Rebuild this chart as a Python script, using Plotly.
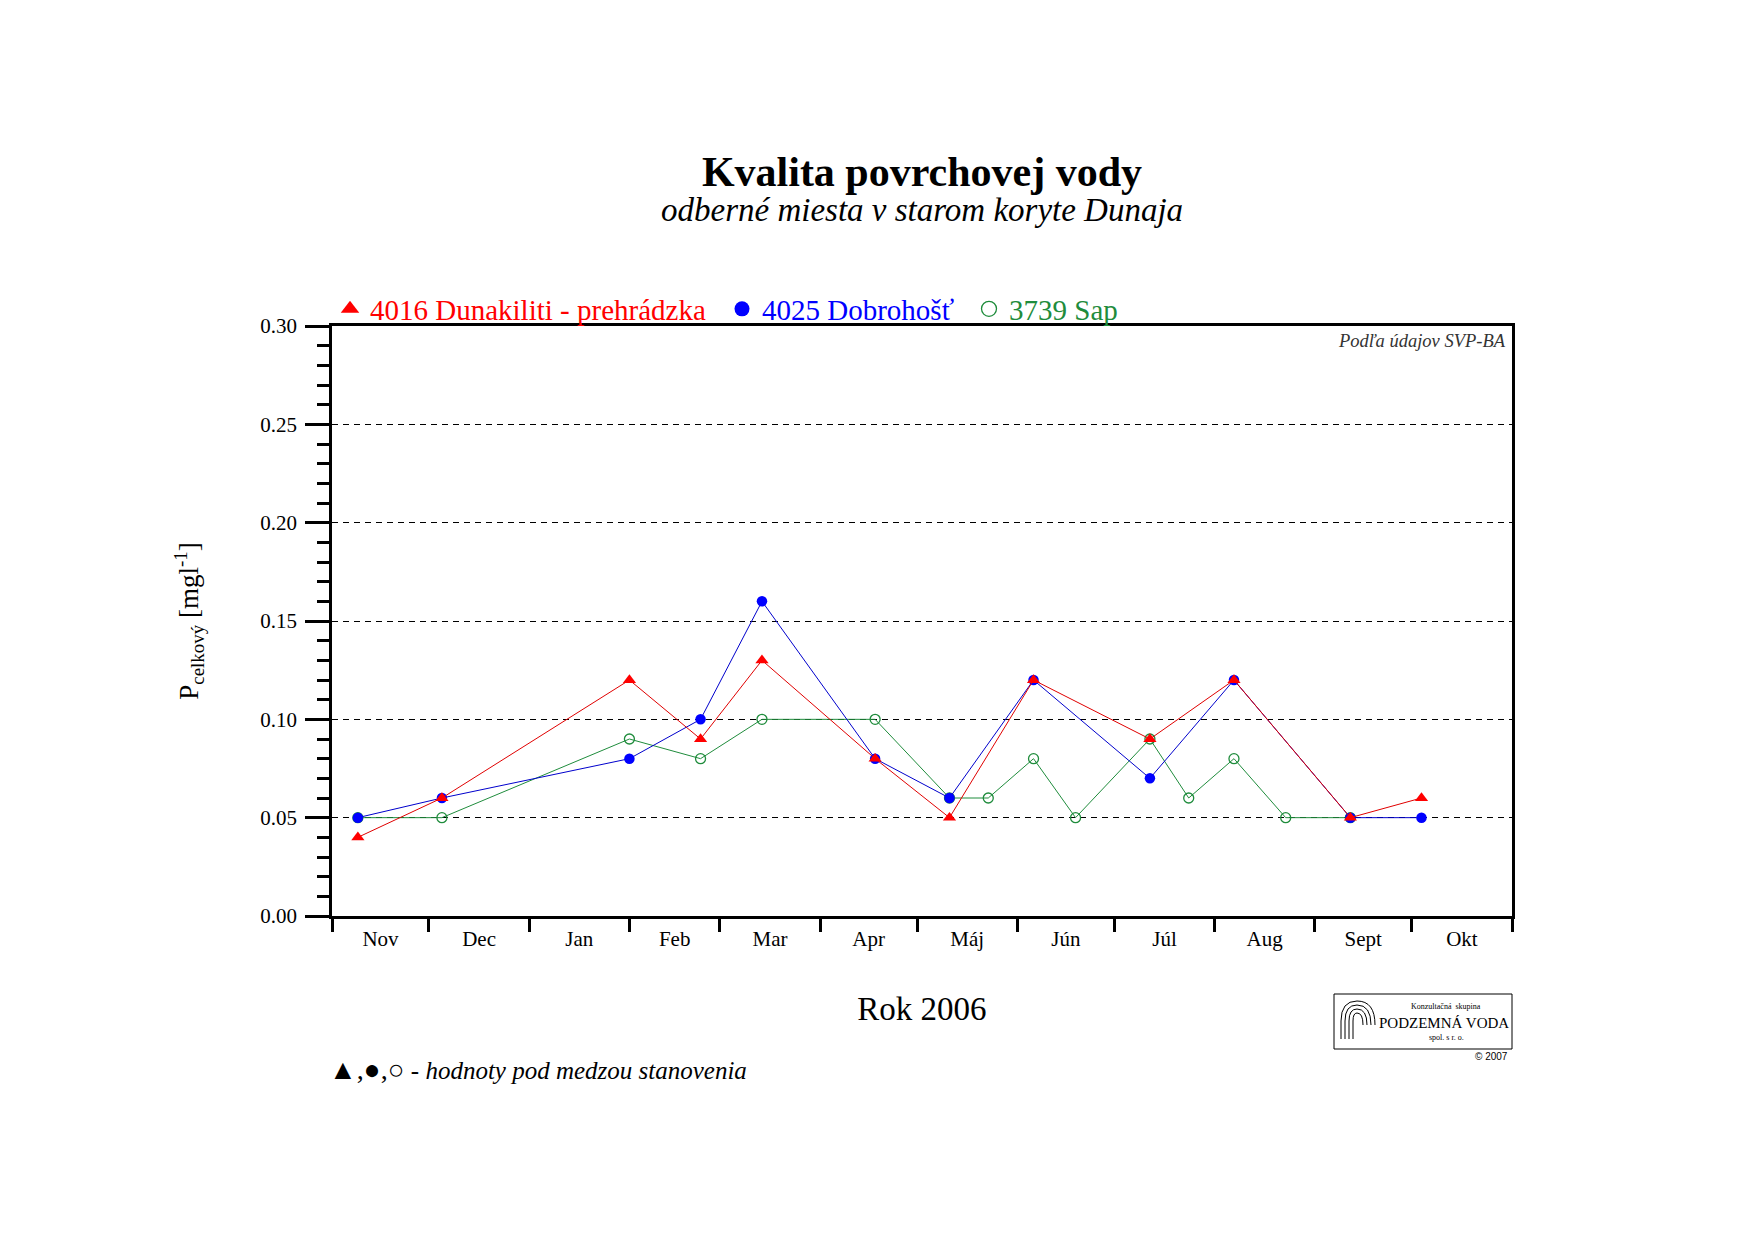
import plotly.graph_objects as go
import pandas as pd

# ---------------- data ----------------
months = ["Nov", "Dec", "Jan", "Feb", "Mar", "Apr", "Máj", "Jún", "Júl", "Aug", "Sept", "Okt"]
month_starts = ["2005-11-01", "2005-12-01", "2006-01-01", "2006-02-01", "2006-03-01", "2006-04-01",
                "2006-05-01", "2006-06-01", "2006-07-01", "2006-08-01", "2006-09-01", "2006-10-01",
                "2006-11-01"]

red_name = "4016 Dunakiliti - prehrádzka"
red_dates = ["2005-11-09", "2005-12-05", "2006-02-01", "2006-02-23", "2006-03-14", "2006-04-18",
             "2006-05-11", "2006-06-06", "2006-07-12", "2006-08-07", "2006-09-12", "2006-10-04"]
red_vals = [0.04, 0.06, 0.12, 0.09, 0.13, 0.08, 0.05, 0.12, 0.09, 0.12, 0.05, 0.06]

blue_name = "4025 Dobrohošť"
blue_dates = ["2005-11-09", "2005-12-05", "2006-02-01", "2006-02-23", "2006-03-14", "2006-04-18",
              "2006-05-11", "2006-06-06", "2006-07-12", "2006-08-07", "2006-09-12", "2006-10-04"]
blue_vals = [0.05, 0.06, 0.08, 0.10, 0.16, 0.08, 0.06, 0.12, 0.07, 0.12, 0.05, 0.05]

green_name = "3739 Sap"
green_dates = ["2005-11-09", "2005-12-05", "2006-02-01", "2006-02-23", "2006-03-14", "2006-04-18",
               "2006-05-11", "2006-05-23", "2006-06-06", "2006-06-19", "2006-07-12", "2006-07-24",
               "2006-08-07", "2006-08-23", "2006-09-12"]
green_vals = [0.05, 0.05, 0.09, 0.08, 0.10, 0.10, 0.06, 0.06, 0.08, 0.05, 0.09, 0.06, 0.08, 0.05, 0.05]

# ---------------- geometry helpers (decorations only) ----------------
W, H = 1755, 1241
OFF = 8  # page body margin
L, R, T, B = 332 - OFF, 1512 - OFF, 326 - OFF, 916 - OFF


def px(x):
    """screen x (reference pixels) -> paper fraction"""
    return (x - OFF - L) / (R - L)


def py(y):
    """screen y (reference pixels) -> paper fraction"""
    return (B - (y - OFF)) / (B - T)


SERIF = "Liberation Serif"
RED, BLUE, GREEN = "#ff0000", "#0000ff", "#1f8c3c"

ms = pd.to_datetime(month_starts)
mid_months = [(ms[i] + (ms[i + 1] - ms[i]) / 2) for i in range(len(months))]

fig = go.Figure()

fig.add_trace(go.Scatter(x=green_dates, y=green_vals, mode="lines+markers", name=green_name,
                         line=dict(color=GREEN, width=1),
                         marker=dict(symbol="circle-open", size=10, color=GREEN, line=dict(width=1.3)),
                         showlegend=False))
fig.add_trace(go.Scatter(x=blue_dates, y=blue_vals, mode="lines+markers", name=blue_name,
                         line=dict(color="#0000cc", width=1),
                         marker=dict(symbol="circle", size=10.5, color=BLUE),
                         showlegend=False))
fig.add_trace(go.Scatter(x=red_dates, y=red_vals, mode="lines+markers", name=red_name,
                         line=dict(color="#e00000", width=1),
                         marker=dict(symbol="triangle-up", size=11.5, color=RED),
                         showlegend=False))

# legend entries (markers only)
fig.add_trace(go.Scatter(x=[None], y=[None], mode="markers", name=red_name,
                         marker=dict(symbol="triangle-up", size=16, color=RED), legend="legend"))
fig.add_trace(go.Scatter(x=[None], y=[None], mode="markers", name=blue_name,
                         marker=dict(symbol="circle", size=15, color=BLUE), legend="legend2"))
fig.add_trace(go.Scatter(x=[None], y=[None], mode="markers", name=green_name,
                         marker=dict(symbol="circle-open", size=15, color=GREEN, line=dict(width=1.3)),
                         legend="legend3"))


def leg(xfig, color):
    # xfig: figure pixel of legend left edge; legend row centred at screen y 310
    return dict(orientation="h", xref="paper", yref="paper", x=(xfig - L) / (R - L), y=py(309),
                xanchor="left", yanchor="middle", bgcolor="rgba(0,0,0,0)", borderwidth=0,
                font=dict(family=SERIF, size=29, color=color))


fig.update_layout(
    width=W, height=H, autosize=False,
    margin=dict(l=L, r=W - R, t=T, b=H - B, pad=0),
    paper_bgcolor="white", plot_bgcolor="white",
    title=dict(text="<b>Kvalita povrchovej vody</b>", font=dict(family=SERIF, size=42, color="black"),
               x=0.5, xref="paper", xanchor="center", y=1 - (171 - OFF) / H, yref="container",
               yanchor="middle"),
    legend=leg(322, RED),
    legend2=leg(714, BLUE),
    legend3=leg(961, GREEN),
)

fig.update_xaxes(
    type="date", range=[month_starts[0], month_starts[-1]],
    tickmode="array", tickvals=mid_months, ticktext=months, ticks="",
    tickfont=dict(family=SERIF, size=21, color="black"), ticklabelstandoff=2,
    showline=True, linewidth=2.5, linecolor="black", mirror=True,
    showgrid=False, zeroline=False,
    minor=dict(dtick="M1", tick0=month_starts[0], ticks="outside", ticklen=13, tickwidth=2.5,
               tickcolor="black", showgrid=False),
    title=dict(text="Rok 2006", font=dict(family=SERIF, size=33, color="black"), standoff=47),
)

fig.update_yaxes(
    range=[0, 0.30], tick0=0, dtick=0.05, tickformat=".2f",
    ticks="outside", ticklen=24, tickwidth=2.5, tickcolor="black",
    tickfont=dict(family=SERIF, size=21, color="black"), ticklabelstandoff=4,
    showline=True, linewidth=2.5, linecolor="black", mirror=True,
    showgrid=True, gridcolor="black", gridwidth=1, griddash="6px,5px", zeroline=False,
    minor=dict(dtick=0.01, ticks="outside", ticklen=12, tickwidth=2.5, tickcolor="black", showgrid=False),
    title=dict(text="P<sub>celkový</sub> [mgl<sup>-1</sup>]", font=dict(family=SERIF, size=27, color="black"),
               standoff=54),
)


def note(text, x, y, size, xanchor="center", family=SERIF, color="black"):
    fig.add_annotation(text=text, xref="paper", yref="paper", x=px(x), y=py(y),
                       xanchor=xanchor, yanchor="middle", showarrow=False,
                       font=dict(family=family, size=size, color=color))


# annotations
note("<i>odberné miesta v starom koryte Dunaja</i>", 922, 210, 33)
note("<i>Podľa údajov SVP-BA</i>", 1508, 341, 18.5, xanchor="right", color="#333333")
note("<span style='font-size:28px'>▲,●,○</span> - <i>hodnoty pod medzou stanovenia</i>",
     327, 1069, 25, xanchor="left")

# logo box
fig.add_shape(type="rect", xref="paper", yref="paper", x0=px(1334), x1=px(1512), y0=py(1049), y1=py(994),
              line=dict(color="black", width=1), fillcolor="white")
note("Konzultačná  skupina", 1446, 1006, 8)
note("PODZEMNÁ VODA", 1444, 1023, 15)
note("spol. s r. o.", 1446, 1037, 8)
note("© 2007", 1510, 1056, 10, xanchor="right", family="Liberation Sans")

# stylised logo mark: nested U-shaped arcs
cx, cy = 1357, 1021
for r in [4, 8, 12, 16]:
    path = "M {} {} L {} {} Q {} {} {} {} Q {} {} {} {}".format(
        px(cx - r), py(cy + 18),
        px(cx - r), py(cy),
        px(cx - r), py(cy - r - 4), px(cx), py(cy - r - 4),
        px(cx + r + 2), py(cy - r - 4), px(cx + r + 2), py(cy + 4))
    fig.add_shape(type="path", xref="paper", yref="paper", path=path,
                  line=dict(color="black", width=1))

fig.write_html("out.html")
